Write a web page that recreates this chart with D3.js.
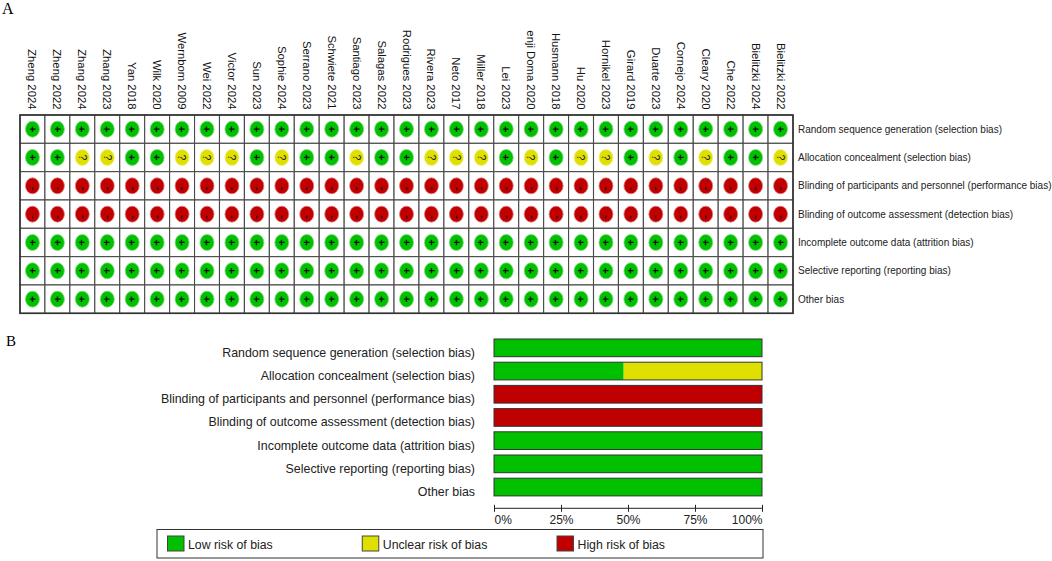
<!DOCTYPE html>
<html><head><meta charset="utf-8">
<script src="https://cdn.jsdelivr.net/npm/d3@7"></script>
<style>
html,body{margin:0;padding:0;background:#fff;}
svg{display:block;}
text{font-family:"Liberation Sans",Arial,sans-serif;}
text.panel{font-family:"Liberation Serif","Times New Roman",serif;}
</style></head>
<body>
<svg id="c" width="1052" height="561"></svg>
<script>
const studies = ["Zheng 2024","Zheng 2022","Zhang 2024","Zhang 2023","Yan 2018","Wilk 2020","Wernbom 2009","Wei 2022","Victor 2024","Sun 2023","Sophie 2024","Serrano 2023","Schwiete 2021","Santiago 2023","Salagas 2022","Rodrigues 2023","Rivera 2023","Neto 2017","Miller 2018","Lei 2023","enji Doma 2020","Husmann 2018","Hu 2020","Hornikel 2023","Girard 2019","Duarte 2023","Cornejo 2024","Cleary 2020","Che 2022","Bielitzki 2024","Bielitzki 2022"];
const domains = ["Random sequence generation (selection bias)","Allocation concealment (selection bias)","Blinding of participants and personnel (performance bias)","Blinding of outcome assessment (detection bias)","Incomplete outcome data (attrition bias)","Selective reporting (reporting bias)","Other bias"];
// L = low, U = unclear, H = high ; one entry per study
const randomSequence = ["L","L","L","L","L","L","L","L","L","L","L","L","L","L","L","L","L","L","L","L","L","L","L","L","L","L","L","L","L","L","L"];
const allocation     = ["L","L","U","U","L","L","U","U","U","L","U","L","L","U","L","L","U","U","U","L","U","L","U","U","L","U","L","U","L","L","U"];
const blindingPart   = ["H","H","H","H","H","H","H","H","H","H","H","H","H","H","H","H","H","H","H","H","H","H","H","H","H","H","H","H","H","H","H"];
const blindingOut    = ["H","H","H","H","H","H","H","H","H","H","H","H","H","H","H","H","H","H","H","H","H","H","H","H","H","H","H","H","H","H","H"];
const incomplete     = ["L","L","L","L","L","L","L","L","L","L","L","L","L","L","L","L","L","L","L","L","L","L","L","L","L","L","L","L","L","L","L"];
const selective      = ["L","L","L","L","L","L","L","L","L","L","L","L","L","L","L","L","L","L","L","L","L","L","L","L","L","L","L","L","L","L","L"];
const otherBias      = ["L","L","L","L","L","L","L","L","L","L","L","L","L","L","L","L","L","L","L","L","L","L","L","L","L","L","L","L","L","L","L"];
const judgements = [randomSequence, allocation, blindingPart, blindingOut, incomplete, selective, otherBias];
const levels = ["L","U","H"];
const legendLabels = ["Low risk of bias","Unclear risk of bias","High risk of bias"];
const axisTicks = [0,25,50,75,100];

const fill = {L:"#00c000", U:"#e0e000", H:"#c00000"};
const ring = {L:"#80dc80", U:"#f0f080", H:"#e08080"};
const sym = {L:"+", U:"?", H:"-"};

const svg = d3.select("#c");

// Panel labels
svg.append("text").attr("class","panel").attr("x",2).attr("y",14).attr("font-size",16).text("A");
svg.append("text").attr("class","panel").attr("x",6).attr("y",346).attr("font-size",15).text("B");

// ---------- Panel A ----------
const xA = d3.scaleBand().domain(studies).range([20, 793]);
const yA = d3.scaleBand().domain(domains).range([115, 313.3]);

const gA = svg.append("g");
gA.selectAll("text.study").data(studies).join("text")
  .attr("class","study")
  .attr("transform", d => `translate(${xA(d)+xA.bandwidth()/2},109.5) rotate(90)`)
  .attr("text-anchor","end").attr("dy","0.35em")
  .attr("font-size",11.3).attr("fill","#111").text(d => d);

const cells = [];
domains.forEach((dom,i) => studies.forEach((s,j) => cells.push({dom, s, v: judgements[i][j]})));

gA.selectAll("rect.cell").data(cells).join("rect")
  .attr("class","cell")
  .attr("x", d => xA(d.s)).attr("y", d => yA(d.dom))
  .attr("width", xA.bandwidth()).attr("height", yA.bandwidth())
  .attr("fill","#fff").attr("stroke","#4a4a4a").attr("stroke-width",1.1);
gA.append("rect").attr("x",20).attr("y",115).attr("width",773).attr("height",198.3)
  .attr("fill","none").attr("stroke","#333").attr("stroke-width",1.6);

gA.selectAll("ellipse").data(cells).join("ellipse")
  .attr("cx", d => xA(d.s)+xA.bandwidth()/2)
  .attr("cy", d => yA(d.dom)+yA.bandwidth()/2)
  .attr("rx",7).attr("ry",8)
  .attr("fill", d => fill[d.v]).attr("stroke", d => ring[d.v]).attr("stroke-width",0.8);

gA.selectAll("text.sym").data(cells).join("text")
  .attr("class","sym")
  .attr("transform", d => `translate(${xA(d.s)+xA.bandwidth()/2},${yA(d.dom)+yA.bandwidth()/2}) rotate(90)`)
  .attr("text-anchor","middle")
  .attr("dx", d => d.v==="H" ? "3" : "0")
  .attr("dy", d => d.v==="H" ? "0.3em" : "0.35em")
  .attr("font-size", d => d.v==="L" ? 11 : (d.v==="U" ? 10.5 : 12))
  .attr("font-weight", d => d.v==="L" ? "bold" : "normal")
  .attr("fill","#111").text(d => sym[d.v]);

gA.selectAll("text.dom").data(domains).join("text")
  .attr("class","dom")
  .attr("x",798).attr("y", d => yA(d)+yA.bandwidth()/2).attr("dy","0.35em")
  .attr("font-size",10).attr("fill","#222").text(d => d);

// ---------- Panel B ----------
const xB = d3.scaleLinear().domain([0,100]).range([494, 762]);
const yB = d3.scaleBand().domain(domains).range([336.25, 498.65]).paddingInner(0.237).paddingOuter(0.1185);

const summary = domains.map((dom,i) => {
  const arr = judgements[i];
  let acc = 0;
  return levels.map(l => {
    const pct = arr.filter(v => v===l).length / arr.length * 100;
    const seg = {dom, level:l, x0:acc, x1:acc+pct};
    acc += pct;
    return seg;
  }).filter(s => s.x1 > s.x0);
});

const gB = svg.append("g");
gB.selectAll("text.lab").data(domains).join("text")
  .attr("class","lab")
  .attr("x",475).attr("y", d => yB(d)+yB.bandwidth())
  .attr("text-anchor","end").attr("font-size",12.4).attr("fill","#222").text(d => d);

gB.selectAll("rect.seg").data(summary.flat()).join("rect")
  .attr("class","seg")
  .attr("x", d => xB(d.x0)).attr("width", d => xB(d.x1)-xB(d.x0))
  .attr("y", d => yB(d.dom)).attr("height", yB.bandwidth())
  .attr("fill", d => fill[d.level]);
gB.selectAll("rect.frame").data(domains).join("rect")
  .attr("class","frame")
  .attr("x", xB(0)).attr("width", xB(100)-xB(0))
  .attr("y", d => yB(d)).attr("height", yB.bandwidth())
  .attr("fill","none").attr("stroke","#333").attr("stroke-width",1);

const ax = gB.append("g").attr("transform","translate(0,508.3)")
  .call(d3.axisBottom(xB).tickValues(axisTicks).tickFormat(d => d+"%").tickSizeOuter(0));
ax.select(".domain").attr("stroke","#222").attr("d", `M${xB(0)},0H${xB(100)}`);
ax.selectAll(".tick line").attr("y1",-3.5).attr("y2",3.5).attr("stroke","#222");
ax.selectAll(".tick text").attr("y",16).attr("dy",0).attr("font-size",12)
  .attr("fill","#222")
  .attr("text-anchor", d => d===0 ? "start" : (d===100 ? "end" : "middle"));

// legend
const lg = svg.append("g");
lg.append("rect").attr("x",157).attr("y",529.5).attr("width",606).attr("height",28.5)
  .attr("fill","#fff").attr("stroke","#333").attr("stroke-width",1);
const legX = d3.scalePoint().domain(levels).range([167.5, 557]);
lg.selectAll("rect.sw").data(levels).join("rect")
  .attr("class","sw")
  .attr("x", d => legX(d)).attr("y",536).attr("width",16.5).attr("height",15)
  .attr("fill", d => fill[d]).attr("stroke","#444").attr("stroke-width",1);
lg.selectAll("text.lt").data(levels).join("text")
  .attr("class","lt")
  .attr("x", d => legX(d)+20.5).attr("y",548.5)
  .attr("font-size",12.3).attr("fill","#222").text((d,i) => legendLabels[i]);
</script>
</body></html>
